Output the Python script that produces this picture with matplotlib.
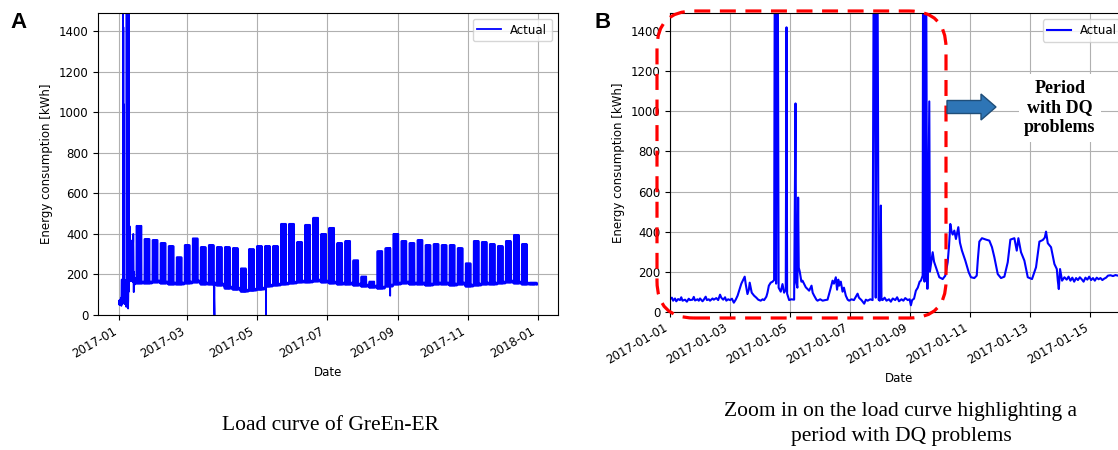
import numpy as np
import pandas as pd
import matplotlib
matplotlib.use('Agg')
import matplotlib.pyplot as plt
import matplotlib.dates as mdates
from matplotlib.patches import FancyBboxPatch, FancyArrow

start = pd.Timestamp('2017-01-01')

# --- panel B data: hours since 2017-01-01 00:00 and consumption (kWh)
zoom_hours = [0, 1.5, 2.5, 4, 5, 6.5, 8, 9, 10, 12, 13.5, 15, 16, 18, 19, 20, 22, 23, 24, 26,
              27, 28.5, 29.5, 31, 32, 34, 35, 37, 38.5, 40, 41, 42.5, 44, 45, 46.5, 48, 49.5, 51, 52.5,
              54, 55.5, 57, 58.5, 59.7, 60.5, 61.9, 63, 63.7, 65.3, 67.2, 69, 70.5, 72.5, 74, 75.2,
              77, 77.9, 79, 80.5, 82, 83.2,
              84, 84.8, 85.8, 86.8, 88.5, 89.9, 91.2, 92.5, 93.1, 93.6, 95.2, 97, 99.2, 100.3, 100.8,
              101.8, 102.4, 102.9, 103.7, 105, 105.9, 108.5, 111.2, 113.1, 114, 115.2, 117, 117.9, 120,
              122, 124, 125.9, 127.2, 128.5, 129.9, 131, 132.5, 133.5, 134.5, 135.2, 136.5, 137.9, 139,
              140.5, 142, 143.2, 145, 147, 148.5, 149.9, 151, 153, 155.2, 156.5, 158, 160, 161.9,
              163.2, 164.4, 165.4, 166.7, 167.6, 168.5, 169, 169.9, 171.5, 173, 175, 176.5, 178, 180,
              181.5, 183, 185, 186.5, 188, 190, 191.5, 192.5, 193.5, 195,
              196.5, 198, 199.5, 200.5, 201.9, 202.4, 203.4, 204.3, 205.5, 205.9, 207.2, 207.7, 209.9,
              211, 212.5, 215.2, 217.9, 220, 221.9, 223, 224, 225, 225.9, 227.2, 228.5, 230.4, 231.7,
              233.3, 236, 238.7, 240.5, 243.2, 245.1, 246, 247.2, 249.3, 252.5, 255.2, 257.3, 259.2,
              261.9, 264.5, 267.2, 269.9, 272, 275.2, 276, 277.1, 278.4, 280.5, 283.2, 285.9, 289.3,
              292.5, 295.2, 297.9, 299.5, 300.5, 301.9, 304.5, 307.2, 309.1, 309.9, 310.7, 311.7, 313.3,
              315.2, 317, 318.5, 320, 321.5, 323, 324.5, 326, 327.5, 329, 330.5, 332, 333.5, 335, 336.5,
              338, 339.5, 341, 342.5, 344, 345.5, 347, 348.5, 350, 352, 354, 356, 358, 360, 362, 364, 366]
zoom_kwh = [62, 70, 55, 66, 52, 63, 58, 72, 55, 60, 50, 65, 58, 60, 74, 56, 62, 55, 66, 52,
            60, 75, 58, 62, 55, 66, 60, 68, 58, 85, 70, 60, 72, 55, 62, 58, 65, 45, 60,
            80, 110, 140, 160, 175, 138, 88, 110, 145, 95, 80, 70, 60, 55, 62, 58,
            75, 95, 130, 145, 150, 158,
            2600, 140, 2600, 120, 100, 138, 95, 110, 1420, 90, 58, 62, 60, 1040, 150,
            120, 570, 220, 200, 150, 155, 122, 105, 130, 95, 80, 60, 55, 62,
            55, 58, 60, 90, 120, 155, 140, 172, 110, 160, 130, 150, 100, 120,
            80, 60, 55, 62, 58, 75, 90, 70, 58, 40, 60, 55, 62, 58,
            2600, 70, 2600, 60, 55, 530, 60, 58, 70, 55, 62, 50, 66, 58,
            72, 52, 62, 55, 68, 58, 62, 32, 58, 65,
            105, 120, 150, 155, 180, 2600, 150, 2600, 115, 115, 1050, 200, 297,
            250, 222, 172, 163, 180, 247, 330, 438, 400, 385, 405, 363, 422, 345,
            305, 255, 197, 172, 168, 180, 260, 350, 367, 360, 355, 322, 272,
            188, 168, 175, 247, 360, 367, 340, 305, 367, 297, 255, 172, 163,
            222, 350, 358, 370, 400, 342, 322, 238, 213, 155, 113, 213, 155,
            172, 160, 175, 155, 170, 150, 168, 158, 172, 162, 150, 170, 160, 175, 158,
            168, 155, 170, 162, 168, 158, 165, 170, 180, 182, 178, 183, 180, 182, 178, 180, 176]

# --- rest of the year (panel A): weekday peak and base level per week,
# weeks starting Monday 2017-01-16 (week 2) up to week 51
week_peak = [440, 375, 370, 355, 340, 285, 345, 378, 335, 345,
             335, 335, 330, 230, 325, 340, 340, 340, 450, 450,
             360, 445, 480, 400, 430, 355, 365, 270, 190, 165,
             315, 330, 400, 365, 355, 370, 345, 350, 345, 345,
             330, 255, 365, 360, 350, 340, 365, 395, 350, 160]
week_base = [155, 155, 160, 155, 150, 150, 155, 160, 150, 150, 145,
             130, 125, 115, 120, 125,
             140, 145, 150, 155, 160, 160, 165, 160, 155, 150, 150, 145,
             140, 135, 130, 140,
             150, 155, 150, 150, 145, 150, 150, 145, 150, 140, 145, 150, 150, 155, 160, 155, 150, 150]
# isolated drops
dip_days = [83.3, 128.3, 236.5]
dip_kwh = [0, 0, 95]

# build the yearly curve (days since 2017-01-01)
days = list(np.array(zoom_hours) / 24)
vals = list(zoom_kwh)
for d in range(15, 365):
    k = (d - 1) // 7 - 2
    base, peak = week_base[k], week_peak[k]
    if d % 7 in (1, 2, 3, 4, 5):
        days += [d + 0.25, d + 0.42, d + 0.58, d + 0.75]
        vals += [base, peak, peak, base]
    else:
        days += [d + 0.3, d + 0.6]
        vals += [base + 10, base]
days += dip_days
vals += dip_kwh
order = np.argsort(days)
year_t = start + pd.to_timedelta(np.array(days)[order], unit='D')
year_v = np.array(vals)[order]
zoom_t = start + pd.to_timedelta(zoom_hours, unit='h')

plt.rcParams['font.family'] = 'DejaVu Sans'
plt.rcParams['font.size'] = 8.5

fig = plt.figure(figsize=(11.18, 4.5), dpi=100)
axA = fig.add_axes([98 / 1118, 135 / 450, 460 / 1118, 302 / 450])
axB = fig.add_axes([670 / 1118, 138.3 / 450, 458 / 1118, 298.4 / 450])

# panel A
axA.plot(year_t, year_v, color='blue', lw=1.3, label='Actual')
axA.set_ylim(0, 1490)
axA.xaxis.set_major_locator(mdates.MonthLocator(bymonth=[1, 3, 5, 7, 9, 11]))
axA.xaxis.set_major_formatter(mdates.DateFormatter('%Y-%m'))

# panel B
axB.plot(zoom_t, zoom_kwh, color='blue', lw=1.5, label='Actual')
axB.set_ylim(0, 1490)
axB.set_xlim(start, start + pd.Timedelta(hours=366))
axB.xaxis.set_major_locator(mdates.DayLocator(bymonthday=range(1, 32, 2)))
axB.xaxis.set_major_formatter(mdates.DateFormatter('%Y-%m-%d'))

for ax in (axA, axB):
    ax.set_yticks(range(0, 1401, 200))
    ax.grid(True)
    ax.set_xlabel('Date')
    ax.set_ylabel('Energy consumption [kWh]')
    ax.legend(loc='upper right')
    plt.setp(ax.get_xticklabels(), rotation=30, ha='right')

# panel letters
fig.text(10 / 1118, 1 - 23 / 450, 'A', fontsize=16, fontweight='bold',
         family='Liberation Sans', va='center')
fig.text(595 / 1118, 1 - 23 / 450, 'B', fontsize=16, fontweight='bold',
         family='Liberation Sans', va='center')

# red dashed rounded frame around the DQ period
frame = FancyBboxPatch((6.57, 1.32), 2.89, 3.07, boxstyle='round,pad=0,rounding_size=0.37',
                       transform=fig.dpi_scale_trans, fill=False, edgecolor='red', lw=2.3,
                       linestyle=(0, (5, 3)), zorder=10)
fig.add_artist(frame)

arrow = FancyArrow(9.47, 3.43, 0.34, 0, width=0.13, head_width=0.26, head_length=0.15,
                   length_includes_head=False, transform=fig.dpi_scale_trans,
                   facecolor='#2E75B6', edgecolor='#1F4E79', lw=1, zorder=10)
fig.add_artist(arrow)

fig.text(10.60, 3.42, 'Period\nwith DQ\nproblems', transform=fig.dpi_scale_trans,
         ha='center', va='center', family='Liberation Serif', fontweight='bold',
         fontsize=13, linespacing=1.2, zorder=11,
         bbox=dict(facecolor='white', edgecolor='none', pad=4))

# captions
fig.text(330 / 1118, 1 - 425 / 450, 'Load curve of GreEn-ER', ha='center', va='center',
         family='Liberation Serif', fontsize=15.5)
fig.text(901 / 1118, 1 - 424 / 450, 'Zoom in on the load curve highlighting a\nperiod with DQ problems',
         ha='center', va='center', family='Liberation Serif', fontsize=15.5, linespacing=1.4)

fig.savefig('out.png', dpi=100)
